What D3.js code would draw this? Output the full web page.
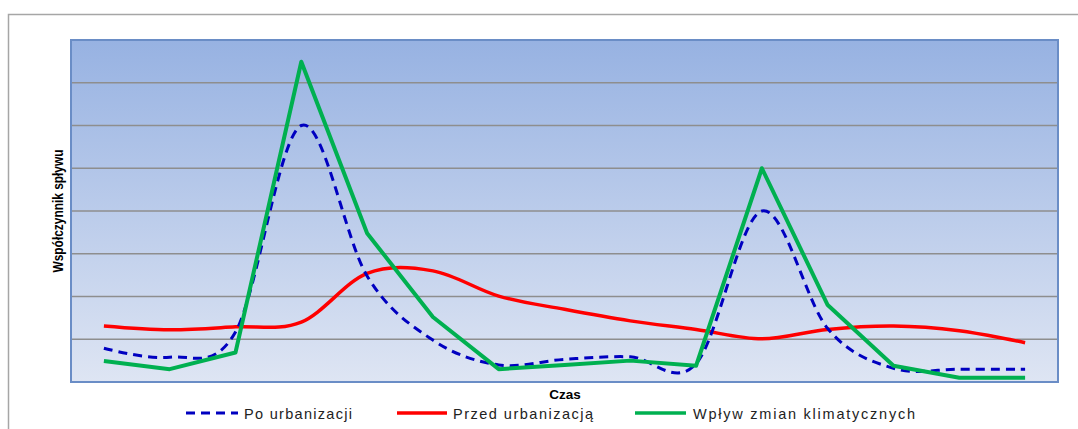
<!DOCTYPE html>
<html><head><meta charset="utf-8">
<script src="https://cdn.jsdelivr.net/npm/d3@7"></script>
<style>body{margin:0;background:#fff}svg{display:block}</style>
</head><body>
<svg id="c" width="1078" height="429"></svg>
<script>
const categories = ["t1","t2","t3","t4","t5","t6","t7","t8","t9","t10","t11","t12","t13","t14","t15"];
const poUrbanizacji = [0.79,0.58,1.17,6.0,2.48,0.98,0.40,0.53,0.59,0.43,4.0,1.25,0.32,0.30,0.30];
const przedUrbanizacja = [1.31,1.22,1.29,1.40,2.54,2.60,2.01,1.70,1.43,1.23,1.01,1.23,1.31,1.20,0.92];
const wplywZmian = [0.49,0.30,0.69,7.49,3.48,1.52,0.30,0.40,0.50,0.38,5.0,1.80,0.38,0.10,0.10];
const seriesNames = ["Po urbanizacji","Przed urbanizacją","Wpływ zmian klimatycznych"];
const yTicks = [1,2,3,4,5,6,7];

const svg = d3.select("#c");
const L=71,R=1058,T=40,B=382;
const x = d3.scaleBand().domain(categories).range([L,R]);
const y = d3.scaleLinear().domain([0,8]).range([B,T]);
const cx = c => x(c)+x.bandwidth()/2;

// outer chart border
svg.append("rect").attr("x",8.5).attr("y",14.5).attr("width",1100).attr("height",450)
  .attr("fill","#fff").attr("stroke","#A6A6A6").attr("stroke-width",1.5);

const defs = svg.append("defs");
const g = defs.append("linearGradient").attr("id","bg").attr("x1",0).attr("y1",0).attr("x2",0).attr("y2",1);
g.append("stop").attr("offset","0%").attr("stop-color","#97B2E2");
g.append("stop").attr("offset","100%").attr("stop-color","#DEE5F3");

svg.append("rect").attr("x",L).attr("y",T).attr("width",R-L).attr("height",B-T).attr("fill","url(#bg)");

svg.append("g").selectAll("line").data(yTicks).join("line")
  .attr("x1",L).attr("x2",R).attr("y1",d=>y(d)).attr("y2",d=>y(d))
  .attr("stroke","#8E8E8E").attr("stroke-width",1.5);

svg.append("rect").attr("x",L).attr("y",T).attr("width",R-L).attr("height",B-T)
  .attr("fill","none").attr("stroke","#6A8DC6").attr("stroke-width",2);

const smooth = d3.line().x((d,i)=>cx(categories[i])).y(d=>y(d)).curve(d3.curveCatmullRom.alpha(0));
const straight = d3.line().x((d,i)=>cx(categories[i])).y(d=>y(d));

svg.append("path").attr("d",smooth(przedUrbanizacja)).attr("fill","none").attr("stroke","#FF0000").attr("stroke-width",3.5).attr("stroke-linejoin","round");
svg.append("path").attr("d",smooth(poUrbanizacji)).attr("fill","none").attr("stroke","#0000C0").attr("stroke-width",3).attr("stroke-dasharray","9,6");
svg.append("path").attr("d",straight(wplywZmian)).attr("fill","none").attr("stroke","#00B050").attr("stroke-width",4).attr("stroke-linejoin","round");

// axis titles
svg.append("text").attr("transform","translate(63,211) rotate(-90)").attr("text-anchor","middle")
  .attr("font-family","Liberation Sans, Arial, sans-serif").attr("font-weight","bold").attr("font-size",14.5)
  .attr("textLength",123).attr("lengthAdjust","spacingAndGlyphs").text("Współczynnik spływu");
svg.append("text").attr("x",565).attr("y",399).attr("text-anchor","middle")
  .attr("font-family","Liberation Sans, Arial, sans-serif").attr("font-weight","bold").attr("font-size",13.5).text("Czas");

// legend
const leg = [
  {name:seriesNames[0], color:"#0000C0", dash:"9,6", w:3, x1:186, x2:238, tx:244, tl:108},
  {name:seriesNames[1], color:"#FF0000", dash:null, w:3.5, x1:397, x2:447, tx:453, tl:140},
  {name:seriesNames[2], color:"#00B050", dash:null, w:3.5, x1:635, x2:686, tx:693, tl:222}
];
const lg = svg.append("g");
leg.forEach(d=>{
  lg.append("line").attr("x1",d.x1).attr("x2",d.x2).attr("y1",413).attr("y2",413)
    .attr("stroke",d.color).attr("stroke-width",d.w).attr("stroke-dasharray",d.dash);
  lg.append("text").attr("x",d.tx).attr("y",419).attr("font-family","Liberation Sans, Arial, sans-serif")
    .attr("font-size",14.5).attr("fill","#222").attr("textLength",d.tl).attr("lengthAdjust","spacing").text(d.name);
});
</script>
</body></html>
